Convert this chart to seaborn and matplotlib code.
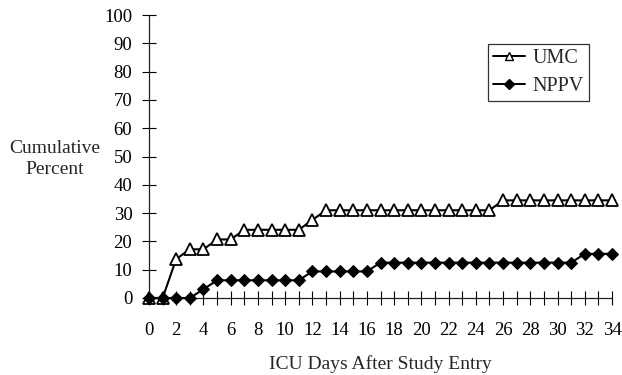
"""
Cumulative percent by ICU day after study entry: UMC vs NPPV.
"""

import matplotlib.pyplot as plt
import numpy as np
import pandas as pd
import seaborn as sns

days = list(range(0, 35))
umc = [0, 0, 13.8, 17.2, 17.2, 20.7, 20.7, 24.1, 24.1, 24.1, 24.1, 24.1, 27.6,
       31.0, 31.0, 31.0, 31.0, 31.0, 31.0, 31.0, 31.0, 31.0, 31.0, 31.0, 31.0, 31.0,
       34.5, 34.5, 34.5, 34.5, 34.5, 34.5, 34.5, 34.5, 34.5]
nppv = [0, 0, 0, 0, 3.1, 6.25, 6.25, 6.25, 6.25, 6.25, 6.25, 6.25, 9.4,
        9.4, 9.4, 9.4, 9.4, 12.5, 12.5, 12.5, 12.5, 12.5, 12.5, 12.5, 12.5, 12.5,
        12.5, 12.5, 12.5, 12.5, 12.5, 12.5, 15.6, 15.6, 15.6]
groups = ["UMC", "NPPV"]
x_ticks = list(range(0, 35, 2))
y_ticks = list(range(0, 101, 10))

df = pd.DataFrame({
    "day": days * 2,
    "pct": umc + nppv,
    "group": ["UMC"] * len(days) + ["NPPV"] * len(days),
})

sns.set_style("ticks")
plt.rcParams["font.family"] = ["Liberation Serif", "DejaVu Serif"]

fig = plt.figure(figsize=(6.22, 3.75), dpi=100)
ax = fig.add_axes([149 / 622, 1 - 298 / 375, (612 - 149) / 622, (298 - 15) / 375])

sns.lineplot(
    data=df, x="day", y="pct", hue="group", style="group",
    hue_order=groups, style_order=groups,
    palette={"UMC": "black", "NPPV": "black"},
    markers={"UMC": "^", "NPPV": "D"}, dashes=False,
    linewidth=1.5, markersize=8, ax=ax, clip_on=False, legend=False,
)
# open triangles for UMC
for ln in ax.lines:
    if ln.get_marker() == "^":
        ln.set_markerfacecolor("white")
        ln.set_markeredgecolor("black")
        ln.set_markeredgewidth(1.3)
        ln.set_zorder(3)
    else:
        ln.set_markersize(6.5)
        ln.set_markeredgecolor("black")
        ln.set_zorder(4)

ax.set_xlim(0, 34)
ax.set_ylim(0, 100)
ax.set_xticks(x_ticks)
ax.set_xticks(days, minor=True)
ax.set_yticks(y_ticks)
ax.tick_params(axis="both", which="both", direction="inout", length=10, width=0.8,
               colors="black", labelsize=13.5)
ax.tick_params(axis="x", which="both", pad=12)
ax.tick_params(axis="y", pad=7)
sns.despine(ax=ax)
for s in ["left", "bottom"]:
    ax.spines[s].set_linewidth(0.9)
    ax.spines[s].set_color("#222222")

ax.set_xlabel("ICU Days After Study Entry", fontsize=14, labelpad=12)
ax.set_ylabel("")
fig.text(55 / 622, 1 - 159 / 375, "Cumulative\nPercent", ha="center", va="center",
         fontsize=14, linespacing=1.3)

handles = [
    plt.Line2D([], [], color="black", marker="^", markerfacecolor="white",
               markersize=6, linewidth=1.4),
    plt.Line2D([], [], color="black", marker="D", markersize=5, linewidth=1.4),
]
leg = ax.legend(handles, groups, loc="upper left", bbox_to_anchor=(0.732, 0.897),
                frameon=True, fancybox=False, fontsize=14.5, handlelength=1.6,
                handletextpad=0.35, borderpad=0.25, labelspacing=0.45,
                borderaxespad=0)
leg.get_frame().set_edgecolor("black")
leg.get_frame().set_linewidth(0.9)

fig.savefig("out.png", dpi=100)
